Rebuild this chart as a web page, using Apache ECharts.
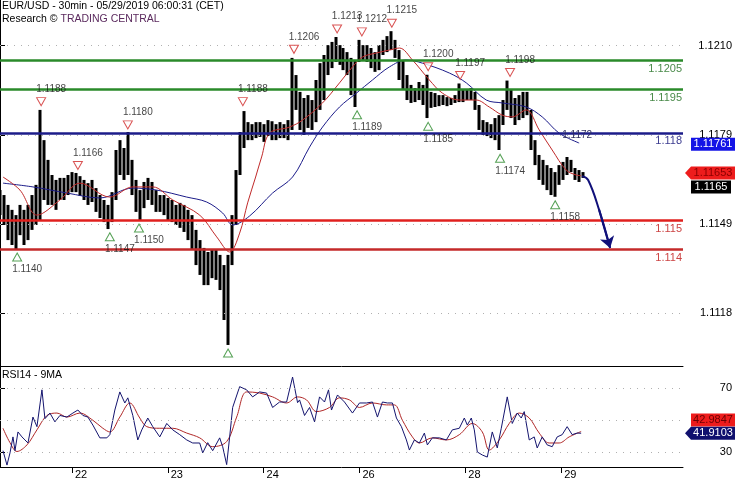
<!DOCTYPE html>
<html><head><meta charset="utf-8">
<script src="https://cdn.jsdelivr.net/npm/echarts@6/dist/echarts.min.js"></script>
<style>html,body{margin:0;padding:0;background:#fff}#c{width:735px;height:480px}</style>
</head><body><div id="c"></div>
<script>
// ---- data (x = hours since 21 May 06:00, one price bar per hour) ----
const dayTicks = [18, 42, 66, 90, 116.5, 140.5];
const dayLabels = ['22', '23', '24', '26', '28', '29'];
const priceTicks = [1.1118, 1.11487, 1.11793, 1.1210];
const rsiTicks = [30, 70];
const rsiGrid = [30, 50, 70];

const barHigh = [1.11603,1.11586,1.11552,1.11535,1.11517,1.11552,1.11535,1.11552,1.11586,1.11621,
1.11879,1.11775,1.11707,1.11655,1.11638,1.11645,1.11645,1.11655,1.11665,1.11662,
1.11651,1.11638,1.11627,1.11638,1.11610,1.11586,1.11569,1.11552,1.11596,1.11741,
1.11775,1.11748,1.11803,1.11707,1.11638,1.11603,1.11631,1.11645,1.11631,1.11603,
1.11586,1.11586,1.11576,1.11569,1.11552,1.11559,1.11552,1.11535,1.11517,1.11466,
1.11431,1.11404,1.11390,1.11397,1.11397,1.11380,1.11345,1.11380,1.11517,1.11672,
1.11803,1.11875,1.11837,1.11830,1.11837,1.11837,1.11830,1.11844,1.11840,1.11830,
1.11837,1.11830,1.11844,1.12058,1.11999,1.11941,1.11920,1.11930,1.11913,1.11982,
1.12040,1.12068,1.12102,1.12113,1.12130,1.12102,1.12092,1.12078,1.12058,1.12051,
1.12120,1.12102,1.12102,1.12092,1.12078,1.12102,1.12120,1.12133,1.12150,1.12120,
1.12085,1.12051,1.11999,1.11965,1.11954,1.11975,1.11965,1.12000,1.11941,1.11937,
1.11930,1.11930,1.11923,1.11920,1.11930,1.11970,1.11948,1.11948,1.11954,1.11941,
1.11896,1.11844,1.11837,1.11830,1.11851,1.11861,1.11913,1.11980,1.11948,1.11920,
1.11930,1.11941,1.11941,1.11879,1.11775,1.11724,1.11707,1.11689,1.11679,1.11665,
1.11689,1.11700,1.11717,1.11707,1.11679,1.11672,1.11665];
const barLow = [1.11517,1.11483,1.11431,1.11414,1.11400,1.11448,1.11414,1.11431,1.11466,1.11483,
1.11500,1.11569,1.11552,1.11552,1.11535,1.11569,1.11569,1.11586,1.11596,1.11596,
1.11583,1.11569,1.11552,1.11562,1.11528,1.11507,1.11493,1.11469,1.11493,1.11569,
1.11655,1.11638,1.11655,1.11586,1.11528,1.11500,1.11541,1.11569,1.11552,1.11528,
1.11528,1.11517,1.11500,1.11493,1.11483,1.11473,1.11459,1.11431,1.11397,1.11345,
1.11311,1.11276,1.11276,1.11300,1.11294,1.11259,1.11156,1.11070,1.11345,1.11483,
1.11655,1.11748,1.11775,1.11775,1.11782,1.11786,1.11769,1.11789,1.11775,1.11775,
1.11782,1.11782,1.11775,1.11810,1.11879,1.11810,1.11793,1.11817,1.11810,1.11837,
1.11879,1.11913,1.11999,1.12023,1.12044,1.12034,1.12016,1.11999,1.11930,1.11889,
1.12044,1.12051,1.12044,1.12023,1.12010,1.12016,1.12068,1.12078,1.12085,1.12058,
1.11982,1.11948,1.11913,1.11903,1.11906,1.11913,1.11896,1.11851,1.11886,1.11889,
1.11892,1.11896,1.11892,1.11896,1.11903,1.11906,1.11906,1.11913,1.11913,1.11879,
1.11810,1.11793,1.11789,1.11782,1.11775,1.11741,1.11827,1.11879,1.11851,1.11827,
1.11844,1.11851,1.11861,1.11741,1.11689,1.11638,1.11621,1.11603,1.11586,1.11580,
1.11621,1.11638,1.11655,1.11665,1.11638,1.11631,1.11645];

const maFast = [[0.75,1.11648],[5,1.11603],[9.25,1.11517],[15,1.11569],[20,1.11627],[27.5,1.11579],[33.25,1.11614],[38.25,1.11614],[43.25,1.11569],[50,1.11517],[54.25,1.11442],[57.5,1.11390],[60,1.11455],[62,1.11559],[64,1.11648],[65.5,1.11717],[67.5,1.11799],[72.5,1.11820],[75.75,1.11844],[80.75,1.11903],[85,1.11972],[88.25,1.12027],[90.75,1.12061],[94.25,1.12075],[97.5,1.12085],[100,1.12092],[103.25,1.12051],[107.5,1.11982],[110.75,1.11937],[115,1.11913],[119.25,1.11913],[122.5,1.11889],[125.75,1.11861],[128.25,1.11855],[131.75,1.11879],[135,1.11810],[138.25,1.11741],[141.75,1.11672],[144.25,1.11655],[145.5,1.11653]];
const maSlow = [[0.75,1.11627],[8.25,1.11614],[16.75,1.11593],[25,1.11576],[33.25,1.11610],[39.25,1.11603],[46.75,1.11579],[51.75,1.11562],[55.75,1.11524],[58.25,1.11483],[62.5,1.11514],[68.25,1.11593],[73.25,1.11648],[77.5,1.11751],[80.75,1.11820],[85,1.11889],[89.25,1.11937],[93.25,1.11982],[97.5,1.12027],[101.75,1.12051],[105.75,1.12040],[112.5,1.12006],[116.75,1.11972],[121.75,1.11913],[125.75,1.11903],[131.75,1.11889],[135.75,1.11855],[140,1.11799],[145,1.11765]];

const rsi = [[0.75,31],[1.75,22],[2.5,29.6],[3.25,39.6],[3.75,31],[4.5,42.7],[5.5,39.6],[6.25,37.7],[7,35.8],[8.25,52],[9.25,46],[10.5,69],[11.25,51],[12.5,54.5],[13.75,49],[15,53],[16.75,52],[18.25,54.5],[19.5,56.4],[20.75,53],[22,52],[23.25,47],[25,39],[26.75,39],[27.5,41],[28.75,56.4],[30,67.7],[31.25,60.8],[32,64],[33.25,53],[34.5,37.7],[35.5,44],[37,51.4],[38.25,46],[40,39.6],[41.75,48],[43.25,44],[45,41],[46.75,37.7],[48.25,35.8],[50,35.8],[50.75,29.6],[52,36],[53.25,31],[55,39],[55.75,33.5],[56.75,22.3],[57.5,39.6],[58.25,58],[60,71],[61.75,69],[63.25,64.6],[65,67.7],[66.75,67],[68.25,58],[70,61.4],[71.75,61.4],[73.25,77],[74.5,61],[75,62.7],[76.25,53],[77.5,58],[78.75,49],[80,64.6],[81.25,61.4],[82.25,69],[83,56.4],[84.5,65.8],[86.25,61.4],[88.25,54.5],[90,60.8],[91.75,60.8],[93.25,61.4],[94.5,52],[95.75,61.4],[97,60.8],[98.25,60.8],[99.25,51.4],[100.5,46],[101.75,37.7],[102.5,31.4],[103.75,37.7],[105,35.8],[106.25,42],[107,34.6],[108.25,39],[110,39],[111.75,37.7],[113.25,44],[115,45],[116.25,51.4],[117,47],[118,51.4],[118.75,44],[119.5,30.2],[120.75,28.3],[122,27],[123.25,42.7],[124.5,32.7],[125.5,45],[127,64.6],[128.25,48],[129.5,54.5],[130.5,51.4],[131.25,55.4],[132.5,37.7],[133.75,39.6],[134.5,32.7],[135.75,39.6],[137,34.6],[138.25,33.5],[139.5,39.6],[140.75,41],[142,46],[143.25,41],[144.5,42],[145.5,41.91]];
const rsiMa = [[0.75,45],[2.5,36],[4.25,30.5],[6.75,34.6],[9.25,44],[11.75,53],[14.25,54.5],[16.75,52],[20,54.5],[23.25,50],[25.75,45],[27.5,42.7],[30,52],[32.5,60.8],[35,51.4],[36.75,46],[40,45],[43.25,45],[46.75,42],[50,39],[53.25,33.5],[56.75,36.7],[59.25,52],[61.75,67.7],[65,67],[68.25,64.6],[71.75,60.8],[74.5,64.6],[76.75,62.7],[79.25,55.4],[82.5,58],[85,64],[87.5,62.7],[90,58],[93.25,60.8],[96.75,59.6],[98.75,59.6],[100.75,50],[103.25,39.6],[105,35.8],[108.25,39],[111.75,37.7],[115,41],[118.25,48],[120.75,42.7],[122.5,31.4],[125,37.7],[127.5,48],[130,54.5],[132.5,51.4],[135,42],[137.5,35.8],[140,35.8],[142.5,39.6],[145.5,42.98]];

const highMarkHours = [10.3, 19.5, 32, 60.8, 73.6, 84.4, 90.6, 98.1, 107.2, 115.2, 127.7];
const highMarkPrices = [1.1188, 1.1166, 1.1180, 1.1188, 1.1206, 1.1213, 1.1212, 1.1215, 1.1200, 1.1197, 1.1198];
const lowMarkHours = [4.3, 27.5, 34.8, 57.1, 89.4, 107.2, 125.2, 139];
const lowMarkPrices = [1.1140, 1.1147, 1.1150, 1.1107, 1.1189, 1.1185, 1.1174, 1.1158];
const lowMarkLabels = ['1.1140', '1.1147', '1.1150', '', '1.1189', '1.1185', '1.1174', '1.1158'];

const levels = [1.1205, 1.1195, 1.1180, 1.1150, 1.1140];
const levelLabels = ['1.1205', '1.1195', '1.118', '1.115', '1.114'];
const levelColors = ['#2a8a2a', '#2a8a2a', '#1c1c8a', '#e0201e', '#c42a2a'];
const levelTextColors = ['#4a8a4a', '#4a8a4a', '#3c3c90', '#cc4444', '#cc4444'];

const forecast = [[145.75, 1.11651], [147.25, 1.11638], [150, 1.11535], [152.75, 1.11404]];

const lastSlow = 1.11761, lastFast = 1.11653, lastPrice = 1.1165;
const lastRsi = 41.9103, lastRsiMa = 42.9847;
const slowNote = [145, 1.11765, '1.1172'];

// ---- chart ----
const FONT = 'Liberation Sans, Arial, sans-serif';
const xMax = 171;
const priceMin = 1.109976, priceMax = 1.122573;
const tagArrow = 'path://M0,6.5L6,0L50,0L50,13L6,13Z';
function tag(yv, text, bg, fg, w, dx, dy, arrow) {
  return {
    coord: [xMax, yv], symbol: arrow ? tagArrow : 'rect', symbolSize: [w, 13],
    symbolOffset: [dx, dy], itemStyle: { color: bg },
    label: { show: true, position: 'inside', formatter: text, color: fg, fontSize: 11,
             fontFamily: FONT, offset: arrow ? [3, 0] : [0, 0] }
  };
}

const chart = echarts.init(document.getElementById('c'));
chart.setOption({
  animation: false,
  backgroundColor: '#fff',
  textStyle: { fontFamily: FONT },
  title: [
    { text: 'EUR/USD - 30min - 05/29/2019 06:00:31 (CET)', left: 2, top: 1, padding: 0,
      textStyle: { fontSize: 10.5, fontWeight: 'normal', color: '#000', fontFamily: FONT } },
    { text: '{a|Research © }{b|TRADING CENTRAL}', left: 2, top: 14, padding: 0,
      textStyle: { fontWeight: 'normal', rich: {
        a: { fontSize: 10.5, color: '#000', fontFamily: FONT, fontWeight: 'normal' },
        b: { fontSize: 10.5, color: '#5b2a5e', fontFamily: FONT, fontWeight: 'normal' } } } },
    { text: 'RSI14 - 9MA', left: 2, top: 370, padding: 0,
      textStyle: { fontSize: 10.5, fontWeight: 'normal', color: '#000', fontFamily: FONT } }
  ],
  grid: [
    { left: 0, right: 52, top: 0, height: 366, outerBoundsMode: 'none' },
    { left: 0, right: 52, top: 366, height: 101, outerBoundsMode: 'none' }
  ],
  xAxis: [
    { type: 'value', gridIndex: 0, min: 0, max: xMax,
      axisLine: { show: true, onZero: false, lineStyle: { color: '#000', width: 1 } },
      axisTick: { show: false }, axisLabel: { show: false }, splitLine: { show: false } },
    { type: 'value', gridIndex: 1, min: 0, max: xMax,
      axisLine: { show: true, onZero: false, lineStyle: { color: '#000', width: 1 } },
      axisTick: { show: true, length: 6, customValues: dayTicks, lineStyle: { color: '#000' } },
      axisLabel: { show: true, customValues: dayTicks, formatter: v => dayLabels[dayTicks.indexOf(v)],
                   align: 'left', margin: 2, padding: [0, 0, 0, 3], fontSize: 11, color: '#000' },
      splitLine: { show: false } }
  ],
  yAxis: [
    { type: 'value', gridIndex: 0, position: 'right', min: priceMin, max: priceMax, scale: true,
      axisLine: { show: true, lineStyle: { color: '#000' } },
      axisTick: { show: true, length: 5, customValues: priceTicks, lineStyle: { color: '#000' } },
      axisLabel: { customValues: priceTicks, formatter: v => v.toFixed(4), align: 'right',
                   margin: 49, fontSize: 11, color: '#000' },
      splitLine: { show: false } },
    { type: 'value', gridIndex: 1, position: 'right', min: 20.8, max: 83.9,
      axisLine: { show: true, lineStyle: { color: '#000' } },
      axisTick: { show: true, length: 5, customValues: rsiTicks, lineStyle: { color: '#000' } },
      axisLabel: { customValues: rsiTicks, formatter: v => String(v), align: 'right',
                   margin: 49, fontSize: 11, color: '#000' },
      splitLine: { show: false } }
  ],
  series: [
    { type: 'candlestick', xAxisIndex: 0, yAxisIndex: 0, z: 2,
      data: barHigh.map((hi, i) => [i, barLow[i], hi, barLow[i], hi]),
      encode: { x: 0, y: [1, 2, 3, 4] }, barWidth: 3.5,
      itemStyle: { color: '#000', color0: '#000', borderColor: '#000', borderColor0: '#000', borderWidth: 0 },
      markLine: { silent: true, symbol: 'none', animation: false, precision: 8, label: { show: false },
                  lineStyle: { color: '#b0b0b0', type: [1, 6], width: 1 },
                  data: priceTicks.map(v => ({ yAxis: v })) } },
    { type: 'line', xAxisIndex: 0, yAxisIndex: 0, z: 4, data: maSlow, symbol: 'none', smooth: 0.35,
      lineStyle: { color: '#1c1c8a', width: 1 },
      markLine: { silent: true, symbol: 'none', animation: false, precision: 8,
                  lineStyle: { width: 2.5 },
                  data: levels.map((v, i) => ({ yAxis: v,
                    lineStyle: { color: levelColors[i], width: 2.5, type: 'solid' },
                    label: { show: true, position: 'insideEndBottom', formatter: levelLabels[i],
                             color: levelTextColors[i], fontSize: 11, fontFamily: FONT, distance: [1, 3] } })) },
      markPoint: { silent: true, animation: false, data: [
        tag(lastSlow, '1.11761', '#1414e6', '#fff', 44, 30, 0, false),
        { coord: [slowNote[0], slowNote[1]], symbol: 'circle', symbolSize: 0,
          label: { show: true, position: 'inside', formatter: slowNote[2], offset: [-2, -8],
                   color: '#303060', fontSize: 10, fontFamily: FONT } }
      ] } },
    { type: 'line', xAxisIndex: 0, yAxisIndex: 0, z: 4, data: maFast, symbol: 'none', smooth: 0.35,
      lineStyle: { color: '#c02a2a', width: 1 },
      markPoint: { silent: true, animation: false, data: [
        tag(lastFast, '1.11653', '#ee1c1c', '#8a0000', 50, 27, -2.5, true),
        tag(lastPrice, '1.1165', '#000', '#fff', 40, 28, 10.5, false)
      ] } },
    { type: 'line', xAxisIndex: 0, yAxisIndex: 0, z: 5, data: forecast, symbol: 'none', smooth: 0.4,
      lineStyle: { color: '#10107a', width: 2 },
      markLine: { silent: true, animation: false, symbol: ['none', 'arrow'], symbolSize: 11, precision: 8,
                  label: { show: false }, lineStyle: { color: '#10107a', width: 2, type: 'solid' },
                  data: [[{ coord: forecast[2] }, { coord: forecast[3] }]] } },
    { type: 'scatter', xAxisIndex: 0, yAxisIndex: 0, z: 6, clip: false,
      data: highMarkHours.map((h, i) => [h, highMarkPrices[i]]),
      symbol: 'path://M0,0L10,0L5,9Z', symbolSize: [9, 8], symbolOffset: [0, -8],
      itemStyle: { color: '#fff', borderColor: '#d02828', borderWidth: 1 },
      label: { show: true, position: 'top', distance: 3, offset: [10, 0],
               formatter: p => p.value[1].toFixed(4), fontSize: 10, color: '#111', fontFamily: FONT } },
    { type: 'scatter', xAxisIndex: 0, yAxisIndex: 0, z: 6, clip: false,
      data: lowMarkHours.map((h, i) => [h, lowMarkPrices[i]]),
      symbol: 'triangle', symbolSize: [9, 8], symbolOffset: [0, 8],
      itemStyle: { color: '#fff', borderColor: '#2a8a2a', borderWidth: 1 },
      label: { show: true, position: 'bottom', distance: 3, offset: [10, 0],
               formatter: p => lowMarkLabels[p.dataIndex], fontSize: 10, color: '#111', fontFamily: FONT } },
    { type: 'line', xAxisIndex: 1, yAxisIndex: 1, z: 3, data: rsiMa, symbol: 'none', smooth: 0.35,
      lineStyle: { color: '#b02828', width: 1 },
      markLine: { silent: true, symbol: 'none', animation: false, precision: 4, label: { show: false },
                  lineStyle: { color: '#b0b0b0', type: [1, 6], width: 1 },
                  data: rsiGrid.map(v => ({ yAxis: v })) } },
    { type: 'line', xAxisIndex: 1, yAxisIndex: 1, z: 4, data: rsi, symbol: 'none',
      lineStyle: { color: '#14146e', width: 1 },
      markPoint: { silent: true, animation: false, data: [
        tag(lastRsiMa, '42.9847', '#ee1c1c', '#6b0000', 44, 30, -11.5, false),
        tag(lastRsi, '41.9103', '#10106e', '#fff', 50, 27, 0, true)
      ] } }
  ]
});
</script></body></html>
